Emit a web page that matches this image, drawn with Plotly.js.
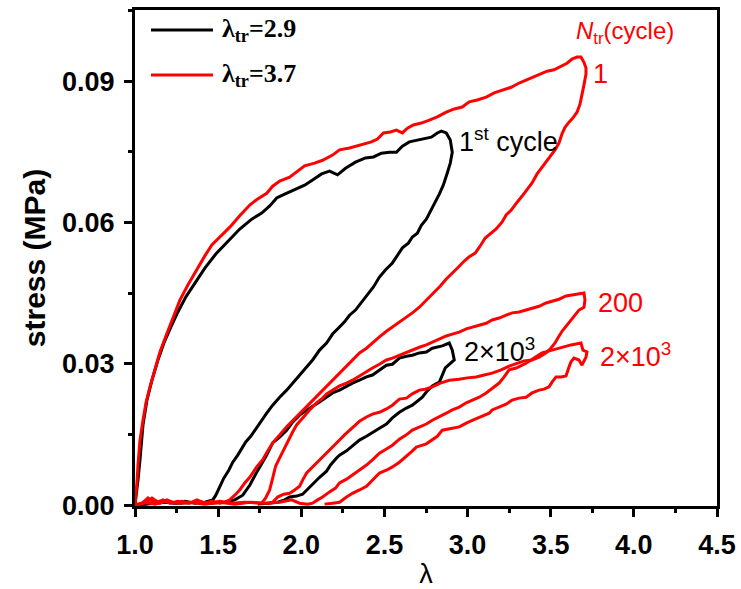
<!DOCTYPE html>
<html>
<head>
<meta charset="utf-8">
<script src="https://cdn.plot.ly/plotly-3.0.1.min.js"></script>
<style>html,body{margin:0;padding:0;background:#fff;}#chart{width:741px;height:589px;}</style>
</head>
<body>
<div id="chart"></div>
<script>
// λ_tr = 2.9, 1st cycle
const black1_x = [1.000,1.006,1.018,1.030,1.048,1.072,1.102,1.138,1.174,1.216,1.258,1.306,1.360,1.420,1.486,1.558,1.630,1.702,1.762,1.810,1.852,1.900,1.960,2.020,2.068,2.122,2.170,2.218,2.266,2.326,2.386,2.434,2.482,2.530,2.572,2.608,2.650,2.698,2.746,2.782,2.818,2.842,2.872,2.896,2.908,2.896,2.878,2.854,2.830,2.800,2.776,2.752,2.722,2.698,2.668,2.644,2.608,2.578,2.548,2.506,2.470,2.434,2.392,2.368,2.326,2.290,2.260,2.230,2.188,2.152,2.110,2.068,2.032,1.990,1.948,1.912,1.870,1.828,1.792,1.762,1.732,1.696,1.666,1.648,1.618,1.588,1.564,1.534,1.510,1.486,1.468,1.420,1.360,1.300,1.240,1.180,1.120,1.060,1.012];
const black1_y = [0.0000,0.0015,0.0053,0.0096,0.0170,0.0223,0.0265,0.0308,0.0344,0.0378,0.0410,0.0442,0.0471,0.0503,0.0533,0.0560,0.0586,0.0607,0.0620,0.0635,0.0652,0.0660,0.0669,0.0679,0.0690,0.0703,0.0709,0.0701,0.0715,0.0728,0.0737,0.0739,0.0747,0.0749,0.0749,0.0762,0.0771,0.0775,0.0779,0.0781,0.0790,0.0794,0.0790,0.0775,0.0749,0.0726,0.0705,0.0679,0.0660,0.0639,0.0622,0.0607,0.0594,0.0577,0.0569,0.0556,0.0546,0.0529,0.0514,0.0499,0.0484,0.0463,0.0444,0.0433,0.0414,0.0403,0.0389,0.0378,0.0363,0.0344,0.0329,0.0308,0.0293,0.0276,0.0259,0.0244,0.0229,0.0212,0.0195,0.0180,0.0166,0.0146,0.0134,0.0123,0.0106,0.0091,0.0074,0.0057,0.0038,0.0021,0.0011,0.0006,0.0004,0.0008,0.0004,0.0006,0.0004,0.0002,0.0000];

// λ_tr = 2.9, 2×10^3 cycle
const black2k_x = [1.000,1.090,1.180,1.270,1.360,1.450,1.540,1.600,1.648,1.690,1.726,1.750,1.792,1.828,1.870,1.912,1.948,1.990,2.032,2.068,2.110,2.152,2.188,2.230,2.272,2.308,2.350,2.392,2.428,2.470,2.512,2.548,2.590,2.632,2.668,2.710,2.752,2.788,2.812,2.848,2.890,2.908,2.920,2.890,2.866,2.848,2.830,2.788,2.752,2.728,2.698,2.668,2.632,2.590,2.548,2.512,2.470,2.428,2.392,2.350,2.308,2.272,2.230,2.212,2.176,2.152,2.110,2.092,2.050,2.008,1.972,1.930,1.900,1.858,1.798,1.738];
const black2k_y = [0.0000,0.0004,0.0006,0.0004,0.0006,0.0004,0.0006,0.0011,0.0021,0.0042,0.0066,0.0081,0.0106,0.0132,0.0144,0.0159,0.0176,0.0191,0.0202,0.0210,0.0219,0.0229,0.0238,0.0244,0.0253,0.0259,0.0265,0.0272,0.0276,0.0287,0.0297,0.0299,0.0312,0.0316,0.0318,0.0323,0.0325,0.0333,0.0335,0.0338,0.0344,0.0329,0.0308,0.0299,0.0291,0.0276,0.0261,0.0253,0.0240,0.0229,0.0221,0.0212,0.0206,0.0197,0.0185,0.0172,0.0163,0.0153,0.0146,0.0138,0.0125,0.0115,0.0106,0.0100,0.0085,0.0072,0.0059,0.0053,0.0038,0.0023,0.0019,0.0017,0.0011,0.0006,0.0004,0.0002];

// λ_tr = 3.7, cycle 1
const red1_x = [1.000,1.006,1.012,1.018,1.030,1.048,1.066,1.090,1.120,1.150,1.186,1.228,1.270,1.318,1.372,1.420,1.462,1.510,1.570,1.630,1.690,1.738,1.792,1.828,1.870,1.930,1.972,2.020,2.080,2.128,2.188,2.230,2.290,2.332,2.380,2.422,2.458,2.494,2.536,2.572,2.608,2.638,2.674,2.722,2.770,2.818,2.872,2.920,2.968,3.010,3.058,3.112,3.160,3.208,3.262,3.310,3.352,3.400,3.442,3.478,3.520,3.562,3.598,3.628,3.658,3.682,3.700,3.712,3.712,3.700,3.688,3.676,3.658,3.634,3.610,3.586,3.568,3.550,3.526,3.502,3.472,3.448,3.418,3.388,3.358,3.328,3.298,3.262,3.232,3.208,3.172,3.136,3.106,3.076,3.046,3.010,2.980,2.944,2.908,2.872,2.836,2.800,2.752,2.710,2.668,2.632,2.590,2.548,2.512,2.470,2.428,2.392,2.350,2.308,2.272,2.248,2.212,2.176,2.152,2.110,2.068,2.032,1.990,1.948,1.912,1.870,1.828,1.798,1.768,1.732,1.690,1.660,1.630,1.600,1.570,1.540,1.510,1.462,1.420,1.372,1.330,1.282,1.240,1.192,1.150,1.102,1.060,1.030,1.006];
const red1_y = [0.0000,0.0021,0.0049,0.0085,0.0138,0.0180,0.0217,0.0251,0.0287,0.0325,0.0359,0.0397,0.0435,0.0467,0.0501,0.0529,0.0552,0.0569,0.0590,0.0614,0.0637,0.0650,0.0662,0.0677,0.0688,0.0696,0.0707,0.0720,0.0726,0.0732,0.0743,0.0754,0.0758,0.0762,0.0766,0.0771,0.0777,0.0790,0.0792,0.0796,0.0790,0.0800,0.0807,0.0811,0.0817,0.0824,0.0834,0.0841,0.0845,0.0856,0.0860,0.0866,0.0875,0.0881,0.0887,0.0896,0.0902,0.0909,0.0915,0.0921,0.0924,0.0932,0.0938,0.0947,0.0951,0.0951,0.0940,0.0928,0.0915,0.0892,0.0870,0.0851,0.0834,0.0822,0.0813,0.0802,0.0788,0.0769,0.0754,0.0743,0.0728,0.0718,0.0703,0.0684,0.0669,0.0656,0.0643,0.0626,0.0616,0.0601,0.0586,0.0575,0.0567,0.0550,0.0535,0.0527,0.0518,0.0505,0.0493,0.0480,0.0465,0.0452,0.0435,0.0420,0.0408,0.0399,0.0389,0.0378,0.0369,0.0357,0.0344,0.0333,0.0323,0.0308,0.0295,0.0287,0.0274,0.0261,0.0251,0.0238,0.0223,0.0208,0.0195,0.0180,0.0166,0.0149,0.0132,0.0115,0.0096,0.0081,0.0059,0.0047,0.0032,0.0021,0.0011,0.0006,0.0004,0.0008,0.0004,0.0011,0.0004,0.0008,0.0004,0.0011,0.0004,0.0015,0.0004,0.0002,0.0000];

// λ_tr = 3.7, cycle 200
const red200_x = [1.000,1.042,1.078,1.120,1.168,1.210,1.258,1.318,1.378,1.438,1.510,1.582,1.660,1.720,1.762,1.786,1.810,1.828,1.846,1.870,1.894,1.918,1.948,1.972,2.008,2.050,2.092,2.128,2.152,2.188,2.230,2.272,2.308,2.350,2.392,2.428,2.470,2.512,2.548,2.590,2.632,2.668,2.710,2.752,2.788,2.830,2.872,2.908,2.950,2.992,3.028,3.070,3.112,3.148,3.190,3.232,3.268,3.310,3.352,3.388,3.430,3.472,3.508,3.550,3.592,3.628,3.664,3.700,3.706,3.700,3.670,3.640,3.610,3.586,3.568,3.544,3.526,3.496,3.472,3.430,3.388,3.340,3.292,3.250,3.202,3.148,3.100,3.052,2.998,2.950,2.890,2.836,2.788,2.746,2.710,2.668,2.632,2.590,2.548,2.512,2.470,2.428,2.392,2.350,2.320,2.290,2.260,2.230,2.188,2.152,2.110,2.068,2.032,2.008,1.990,1.960,1.930,1.894,1.858,1.828,1.798];
const red200_y = [0.0000,0.0004,0.0015,0.0004,0.0011,0.0004,0.0008,0.0004,0.0008,0.0004,0.0008,0.0004,0.0006,0.0004,0.0004,0.0015,0.0032,0.0057,0.0083,0.0100,0.0117,0.0136,0.0155,0.0170,0.0185,0.0202,0.0217,0.0227,0.0236,0.0244,0.0253,0.0259,0.0265,0.0274,0.0284,0.0291,0.0299,0.0308,0.0312,0.0318,0.0325,0.0329,0.0335,0.0340,0.0346,0.0352,0.0359,0.0363,0.0367,0.0374,0.0378,0.0382,0.0386,0.0393,0.0397,0.0403,0.0408,0.0410,0.0414,0.0418,0.0422,0.0429,0.0433,0.0437,0.0444,0.0446,0.0448,0.0450,0.0435,0.0420,0.0414,0.0401,0.0386,0.0378,0.0369,0.0355,0.0344,0.0331,0.0323,0.0314,0.0308,0.0306,0.0301,0.0295,0.0287,0.0280,0.0276,0.0272,0.0270,0.0267,0.0265,0.0259,0.0251,0.0246,0.0244,0.0236,0.0227,0.0225,0.0212,0.0204,0.0197,0.0193,0.0187,0.0178,0.0168,0.0159,0.0149,0.0138,0.0123,0.0110,0.0096,0.0081,0.0068,0.0053,0.0040,0.0032,0.0025,0.0023,0.0017,0.0006,0.0002];

// λ_tr = 3.7, cycle 2×10^3
const red2k_x = [1.000,1.060,1.120,1.180,1.258,1.330,1.420,1.510,1.600,1.690,1.780,1.870,1.942,1.990,2.038,2.068,2.098,2.128,2.170,2.206,2.230,2.272,2.308,2.350,2.392,2.428,2.470,2.512,2.548,2.590,2.632,2.668,2.710,2.752,2.788,2.830,2.872,2.908,2.950,2.992,3.028,3.070,3.112,3.148,3.190,3.220,3.250,3.292,3.352,3.400,3.448,3.508,3.568,3.622,3.682,3.694,3.718,3.712,3.688,3.670,3.640,3.622,3.610,3.592,3.562,3.532,3.508,3.490,3.460,3.430,3.388,3.352,3.310,3.268,3.232,3.190,3.148,3.130,3.088,3.052,3.028,2.992,2.950,2.908,2.872,2.848,2.818,2.788,2.752,2.710,2.692,2.662,2.632,2.590,2.548,2.512,2.470,2.428,2.392,2.350,2.308,2.272,2.230,2.188,2.140];
const red2k_y = [0.0000,0.0006,0.0002,0.0008,0.0004,0.0006,0.0002,0.0006,0.0002,0.0006,0.0004,0.0006,0.0011,0.0004,0.0002,0.0004,0.0011,0.0017,0.0028,0.0036,0.0047,0.0055,0.0064,0.0074,0.0085,0.0096,0.0110,0.0119,0.0127,0.0140,0.0149,0.0159,0.0166,0.0172,0.0180,0.0187,0.0195,0.0202,0.0208,0.0217,0.0223,0.0229,0.0238,0.0248,0.0259,0.0272,0.0287,0.0291,0.0301,0.0312,0.0323,0.0329,0.0335,0.0340,0.0344,0.0329,0.0325,0.0314,0.0297,0.0308,0.0312,0.0304,0.0293,0.0274,0.0272,0.0272,0.0261,0.0251,0.0246,0.0244,0.0238,0.0229,0.0227,0.0223,0.0214,0.0208,0.0202,0.0195,0.0189,0.0185,0.0180,0.0174,0.0166,0.0163,0.0161,0.0159,0.0146,0.0138,0.0130,0.0125,0.0123,0.0113,0.0104,0.0091,0.0081,0.0074,0.0068,0.0053,0.0040,0.0032,0.0025,0.0017,0.0006,0.0004,0.0002];

const seriesNames = ['λ<sub>tr</sub>=2.9', 'λ<sub>tr</sub>=3.7'];
const seriesColors = ['#000000', '#ff0000'];
const xTickVals = [1.0, 1.5, 2.0, 2.5, 3.0, 3.5, 4.0, 4.5];
const yTickVals = [0.00, 0.03, 0.06, 0.09];

const loops = [
  {x: black1_x, y: black1_y, s: 0},
  {x: black2k_x, y: black2k_y, s: 0},
  {x: red1_x, y: red1_y, s: 1},
  {x: red200_x, y: red200_y, s: 1},
  {x: red2k_x, y: red2k_y, s: 1}
];

const traces = loops.map(l => ({
  x: l.x, y: l.y, type: 'scatter', mode: 'lines',
  line: {color: seriesColors[l.s], width: 3},
  showlegend: false, hoverinfo: 'skip'
}));

const sans = 'Liberation Sans, Arial, sans-serif';
const tickFont = {family: sans, size: 27, color: '#000', weight: 'bold'};
const annFont = {family: sans, size: 27};
const legFont = {family: 'Liberation Serif, Times New Roman, serif', size: 26, color: '#000', weight: 'bold'};

const layout = {
  width: 741, height: 589,
  margin: {l: 135, r: 24, t: 10, b: 83, pad: 0},
  paper_bgcolor: '#fff', plot_bgcolor: '#fff',
  showlegend: false,
  xaxis: {
    range: [1, 4.5], tickvals: xTickVals, tickformat: '.1f',
    ticks: 'outside', ticklen: 8, tickwidth: 3, tickcolor: '#000',
    showline: true, linewidth: 3, linecolor: '#000', mirror: true,
    showgrid: false, zeroline: false, tickfont: tickFont, ticklabelstandoff: 5,
    minor: {dtick: 0.25, tick0: 1, ticks: 'outside', ticklen: 4, tickwidth: 3, tickcolor: '#000', showgrid: false},
    title: {text: 'λ', font: {family: sans, size: 27, color: '#000'}, standoff: 6},
    automargin: false
  },
  yaxis: {
    range: [-0.0002, 0.1051], tickvals: yTickVals, tickformat: '.2f',
    ticks: 'outside', ticklen: 8, tickwidth: 3, tickcolor: '#000',
    showline: true, linewidth: 3, linecolor: '#000', mirror: true,
    showgrid: false, zeroline: false, tickfont: tickFont, ticklabelstandoff: 4,
    minor: {dtick: 0.015, tick0: 0, ticks: 'outside', ticklen: 4, tickwidth: 3, tickcolor: '#000', showgrid: false},
    title: {text: 'stress (MPa)', font: {family: sans, size: 30, color: '#000', weight: 'bold'}, standoff: 8},
    automargin: false
  },
  shapes: [
    {type: 'line', xref: 'paper', yref: 'paper', x0: 0.0275, x1: 0.134, y0: 0.9597, y1: 0.9597, line: {color: seriesColors[0], width: 3}},
    {type: 'line', xref: 'paper', yref: 'paper', x0: 0.0275, x1: 0.134, y0: 0.869, y1: 0.869, line: {color: seriesColors[1], width: 3}}
  ],
  annotations: [
    {xref: 'paper', yref: 'paper', x: 0.146, y: 0.9597, xanchor: 'left', yanchor: 'middle', showarrow: false, text: seriesNames[0], font: legFont},
    {xref: 'paper', yref: 'paper', x: 0.146, y: 0.869, xanchor: 'left', yanchor: 'middle', showarrow: false, text: seriesNames[1], font: legFont},
    {x: 3.946, y: 0.1004, showarrow: false, xanchor: 'center', yanchor: 'middle', text: '<i>N</i><sub>tr</sub>(cycle)', font: {family: sans, size: 24, color: '#ff0000'}},
    {x: 3.802, y: 0.0915, showarrow: false, xanchor: 'center', yanchor: 'middle', text: '1', font: Object.assign({}, annFont, {color: '#ff0000'})},
    {x: 2.938, y: 0.0775, showarrow: false, xanchor: 'left', yanchor: 'middle', text: '1<sup>st</sup> cycle', font: Object.assign({}, annFont, {color: '#000'})},
    {x: 3.772, y: 0.0429, showarrow: false, xanchor: 'left', yanchor: 'middle', text: '200', font: Object.assign({}, annFont, {color: '#ff0000'})},
    {x: 2.968, y: 0.0329, showarrow: false, xanchor: 'left', yanchor: 'middle', text: '2×10<sup>3</sup>', font: Object.assign({}, annFont, {color: '#000'})},
    {x: 3.784, y: 0.0318, showarrow: false, xanchor: 'left', yanchor: 'middle', text: '2×10<sup>3</sup>', font: Object.assign({}, annFont, {color: '#ff0000'})}
  ]
};

Plotly.newPlot('chart', traces, layout, {displayModeBar: false, staticPlot: true});
</script>
</body>
</html>
